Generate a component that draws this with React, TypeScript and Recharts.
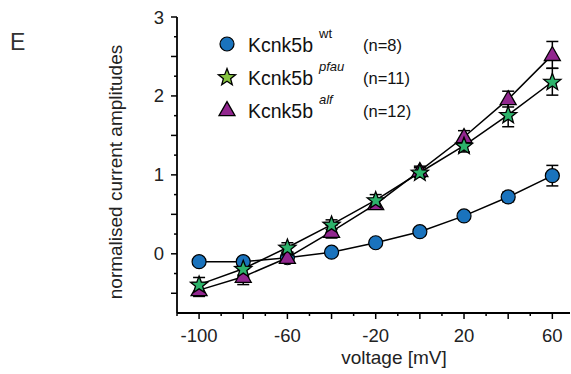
import React from 'react';
import { LineChart, Line, XAxis, YAxis, ErrorBar } from 'recharts';

const voltages = [-100, -80, -60, -40, -20, 0, 20, 40, 60];
const wtMean = [-0.1, -0.1, -0.05, 0.02, 0.14, 0.28, 0.48, 0.72, 0.99];
const wtErr = [0.04, 0.05, 0.04, 0.04, 0.04, 0.05, 0.04, 0.06, 0.13];
const pfauMean = [-0.39, -0.19, 0.08, 0.37, 0.68, 1.03, 1.37, 1.76, 2.18];
const pfauErr = [0.09, 0.08, 0.06, 0.06, 0.07, 0.06, 0.08, 0.15, 0.17];
const alfMean = [-0.46, -0.29, -0.05, 0.28, 0.63, 1.05, 1.48, 1.96, 2.52];
const alfErr = [0.08, 0.1, 0.07, 0.08, 0.06, 0.06, 0.08, 0.1, 0.17];

const xTicks = [-110, -100, -90, -80, -70, -60, -50, -40, -30, -20, -10, 0, 10, 20, 30, 40, 50, 60];
const xLabelTicks = [-100, -60, -20, 20, 60];
const yTicks = [-0.5, -0.25, 0, 0.25, 0.5, 0.75, 1, 1.25, 1.5, 1.75, 2, 2.25, 2.5, 2.75, 3];
const yLabelTicks = [0, 1, 2, 3];

const legendItems = [
  { name: 'Kcnk5b', sup: 'wt', n: '(n=8)', shape: 'circle' },
  { name: 'Kcnk5b', sup: 'pfau', n: '(n=11)', shape: 'star' },
  { name: 'Kcnk5b', sup: 'alf', n: '(n=12)', shape: 'triangle' },
];

const data = voltages.map((v, i) => ({
  v,
  wt: wtMean[i],
  wtErr: wtErr[i],
  pfau: pfauMean[i],
  pfauErr: pfauErr[i],
  alf: alfMean[i],
  alfErr: alfErr[i],
}));

const FONT = '"Liberation Sans", Arial, Helvetica, sans-serif';
const BLUE = '#1a73bd';
const GREEN = '#2db36b';
const LEGEND_GREEN = '#86c440';
const PURPLE = '#92278f';

function starPath(cx: number, cy: number, ro: number, ri: number) {
  let d = '';
  for (let k = 0; k < 10; k++) {
    const r = k % 2 === 0 ? ro : ri;
    const a = -Math.PI / 2 + (k * Math.PI) / 5;
    d += (k === 0 ? 'M' : 'L') + (cx + r * Math.cos(a)).toFixed(2) + ',' + (cy + r * Math.sin(a)).toFixed(2);
  }
  return d + 'Z';
}

function Marker({ shape, cx, cy, fill }: { shape: string; cx: number; cy: number; fill: string }) {
  if (shape === 'circle') {
    return <circle cx={cx} cy={cy} r={7} fill={fill} stroke="#000" strokeWidth={1.2} />;
  }
  if (shape === 'star') {
    return <path d={starPath(cx, cy + 0.5, 9, 3.8)} fill={fill} stroke="#000" strokeWidth={1.3} strokeLinejoin="miter" />;
  }
  const h = 14;
  const w = 16;
  return (
    <path
      d={`M${cx},${cy - h * 0.6} L${cx + w / 2},${cy + h * 0.4} L${cx - w / 2},${cy + h * 0.4} Z`}
      fill={fill}
      stroke="#000"
      strokeWidth={1.3}
    />
  );
}

const makeDot = (shape: string, fill: string) => (props: any) => {
  const { cx, cy, index } = props;
  if (cx == null || cy == null) return <g key={index} />;
  return (
    <g key={`${shape}-${index}`}>
      <Marker shape={shape} cx={cx} cy={cy} fill={fill} />
    </g>
  );
};

const YTick = (props: any) => {
  const { x, y, payload } = props;
  const v = payload.value;
  const long = Math.abs(v * 2 - Math.round(v * 2)) < 1e-6;
  const len = long ? 6 : 3;
  const labeled = yLabelTicks.includes(v);
  return (
    <g>
      <line x1={x - len} x2={x} y1={y} y2={y} stroke="#000" strokeWidth={1.5} />
      {labeled && (
        <text x={x - 13} y={y + 6.5} textAnchor="end" fontSize={18.5} fontFamily={FONT} fill="#222">
          {v}
        </text>
      )}
    </g>
  );
};

const XTick = (props: any) => {
  const { x, y, payload } = props;
  const v = payload.value;
  const long = v % 20 === 0;
  const len = long ? 6 : 3;
  const labeled = xLabelTicks.includes(v);
  return (
    <g>
      <line x1={x} x2={x} y1={y} y2={y + len} stroke="#000" strokeWidth={1.5} />
      {labeled && (
        <text x={x} y={y + 29} textAnchor="middle" fontSize={18.5} fontFamily={FONT} fill="#222">
          {v}
        </text>
      )}
    </g>
  );
};

export default function App() {
  return (
    <div style={{ position: 'absolute', left: 0, top: 0, width: 571, height: 374, background: '#fff' }}>
      <div style={{ position: 'absolute', left: 0, top: 0 }}>
        <LineChart width={571} height={374} data={data} margin={{ top: 17, right: 1, left: 0, bottom: 0 }}>
          <XAxis
            dataKey="v"
            type="number"
            domain={[-110, 68]}
            ticks={xTicks}
            interval={0}
            tick={<XTick />}
            tickLine={false}
            tickSize={0}
            tickMargin={0}
            height={61}
            axisLine={{ stroke: '#000', strokeWidth: 1.8 }}
            allowDataOverflow
          />
          <YAxis
            type="number"
            domain={[-0.75, 3]}
            ticks={yTicks}
            interval={0}
            tick={<YTick />}
            tickLine={false}
            tickSize={0}
            tickMargin={0}
            width={177}
            axisLine={{ stroke: '#000', strokeWidth: 1.8 }}
            allowDataOverflow
          />
          <Line dataKey="wt" stroke="#000" strokeWidth={1.5} dot={makeDot('circle', BLUE)} activeDot={false} isAnimationActive={false} />
          <Line dataKey="wt" stroke="none" dot={false} activeDot={false} isAnimationActive={false}>
            <ErrorBar dataKey="wtErr" width={6} stroke="#000" strokeWidth={1.5} isAnimationActive={false} />
          </Line>
          <Line dataKey="alf" stroke="#000" strokeWidth={1.5} dot={makeDot('triangle', PURPLE)} activeDot={false} isAnimationActive={false} />
          <Line dataKey="alf" stroke="none" dot={false} activeDot={false} isAnimationActive={false}>
            <ErrorBar dataKey="alfErr" width={6} stroke="#000" strokeWidth={1.5} isAnimationActive={false} />
          </Line>
          <Line dataKey="pfau" stroke="#000" strokeWidth={1.5} dot={makeDot('star', GREEN)} activeDot={false} isAnimationActive={false} />
          <Line dataKey="pfau" stroke="none" dot={false} activeDot={false} isAnimationActive={false}>
            <ErrorBar dataKey="pfauErr" width={6} stroke="#000" strokeWidth={1.5} isAnimationActive={false} />
          </Line>
        </LineChart>
      </div>
      <svg
        width={571}
        height={374}
        style={{ position: 'absolute', left: 0, top: 0, pointerEvents: 'none' }}
      >
        <text x={10} y={50} fontSize={23} fontFamily={FONT} fill="#333">
          E
        </text>
        <text
          x={0}
          y={0}
          transform="translate(122,172) rotate(-90)"
          textAnchor="middle"
          fontSize={19}
          fontFamily={FONT}
          fill="#222"
        >
          normalised current amplitudes
        </text>
        <text x={394} y={364} textAnchor="middle" fontSize={19} fontFamily={FONT} fill="#222">
          voltage [mV]
        </text>
        {legendItems.map((it, i) => {
          const cy = 44 + i * 33;
          const fill = it.shape === 'circle' ? BLUE : it.shape === 'star' ? LEGEND_GREEN : PURPLE;
          return (
            <g key={it.sup}>
              <Marker shape={it.shape} cx={227} cy={cy} fill={fill} />
              <text x={248} y={cy + 8} fontSize={19.5} fontFamily={FONT} fill="#111">
                {it.name}
              </text>
              <text x={319} y={cy - 6} fontSize={13} fontStyle={i === 0 ? 'normal' : 'italic'} fontFamily={FONT} fill="#111">
                {it.sup}
              </text>
              <text x={363} y={cy + 7} fontSize={16.5} fontFamily={FONT} fill="#111">
                {it.n}
              </text>
            </g>
          );
        })}
      </svg>
    </div>
  );
}
